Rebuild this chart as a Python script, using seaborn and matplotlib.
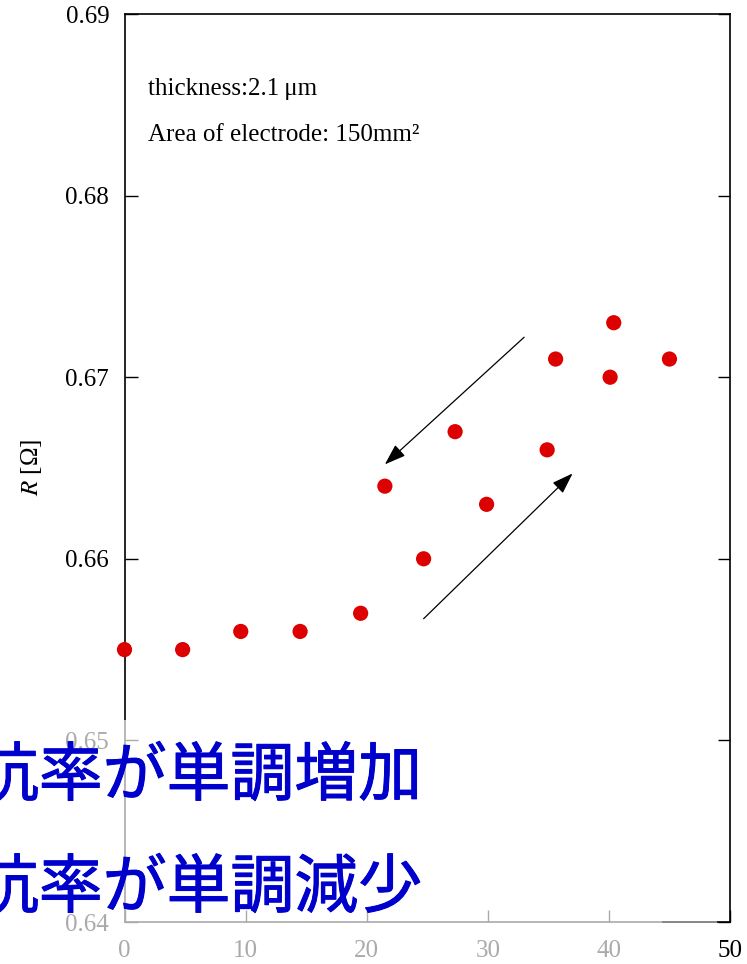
import matplotlib
matplotlib.use("Agg")
import matplotlib.pyplot as plt
import matplotlib.patheffects as pe
import seaborn as sns
import pandas as pd
from matplotlib.patches import Rectangle

# data
x_up = [0.0, 4.8, 9.6, 14.5, 19.5, 24.7, 29.9, 34.9, 40.1, 45.0]
r_up = [0.655, 0.655, 0.656, 0.656, 0.657, 0.660, 0.663, 0.666, 0.670, 0.671]
x_down = [40.4, 35.6, 27.3, 21.5]
r_down = [0.673, 0.671, 0.667, 0.664]
x_ticks = [0, 10, 20, 30, 40, 50]
y_ticks = [0.64, 0.65, 0.66, 0.67, 0.68, 0.69]
note_lines = ["thickness:2.1\u2009\u03bcm", "Area of electrode: 150mm\u00b2"]
jp_lines = ["抵抗率が単調増加", "抵抗率が単調減少"]

df = pd.DataFrame({"x": x_up + x_down, "R": r_up + r_down})

sns.set_style("white")
plt.rcParams["font.family"] = ["Liberation Serif", "DejaVu Serif"]
plt.rcParams["mathtext.fontset"] = "stix"
plt.rcParams["text.color"] = "black"
plt.rcParams["axes.labelcolor"] = "black"

fig = plt.figure(figsize=(7.47, 9.64), dpi=100)
ax = fig.add_axes([124.5 / 747, 42 / 964, 605.5 / 747, 908 / 964])

sns.scatterplot(data=df, x="x", y="R", ax=ax, color="#dd0000", s=120,
                edgecolor="none", clip_on=False, zorder=3)

ax.set_xlim(0, 50)
ax.set_ylim(0.64, 0.69)
ax.set_xticks(x_ticks)
ax.set_xticklabels([str(v) for v in x_ticks])
ax.set_yticks(y_ticks)
ax.set_yticklabels([f"{v:.2f}" for v in y_ticks])
ax.tick_params(axis="y", direction="in", length=9, width=1, labelsize=18,
               left=True, right=True, pad=11, colors="black")
ax.tick_params(axis="x", direction="in", length=9, width=1, labelsize=18,
               bottom=True, top=False, pad=13, colors="black")
for sp in ax.spines.values():
    sp.set_visible(True)
    sp.set_color("black")
    sp.set_linewidth(1.2)

ax.set_xlabel("")
ax.set_ylabel(r"$R$ [Ω]", fontsize=18, color="black")
ax.yaxis.set_label_coords((44 - 124.5) / 605.5, (922 - 467) / 908)

ax.text(0.038, 0.917, note_lines[0], transform=ax.transAxes, fontsize=18,
        ha="left", va="center", color="black")
ax.text(0.038, 0.867, note_lines[1], transform=ax.transAxes, fontsize=18,
        ha="left", va="center", color="black")

arrow_kw = dict(arrowstyle="-|>,head_length=1.3,head_width=0.45", color="black",
                lw=0.9, shrinkA=0, shrinkB=0)
ax.annotate("", xy=(21.5, 0.6652), xytext=(33.0, 0.6722), arrowprops=arrow_kw)
ax.annotate("", xy=(37.0, 0.6647), xytext=(24.7, 0.6567), arrowprops=arrow_kw)

# translucent overlays at the bottom-left
fig.add_artist(Rectangle((0, 0), 717 / 747, (964 - 720) / 964, transform=fig.transFigure,
                         facecolor="white", alpha=0.45, edgecolor="none", zorder=10))
fig.add_artist(Rectangle((0, 0), 662 / 747, (964 - 720) / 964, transform=fig.transFigure,
                         facecolor="white", alpha=0.4, edgecolor="none", zorder=10))

for line, yc in zip(jp_lines, [777, 889]):
    fig.text(-89 / 747, (964 - yc) / 964, line, fontsize=46, color="#0000cc",
             family=["Noto Sans CJK JP", "DejaVu Sans"], ha="left", va="center",
             fontweight="normal", zorder=20,
             path_effects=[pe.withStroke(linewidth=0.7, foreground="#0000cc")])

fig.savefig("out.png", dpi=100)
